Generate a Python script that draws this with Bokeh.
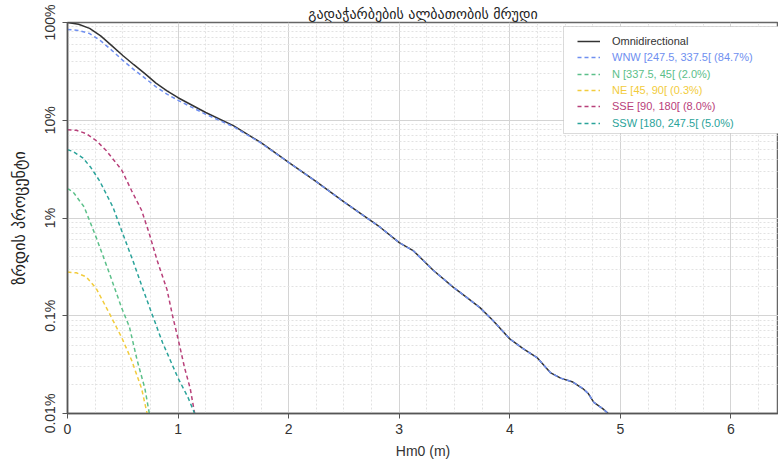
from bokeh.plotting import figure
from bokeh.models import (Range1d, FixedTicker, CustomJSTickFormatter, SingleIntervalTicker,
                          Legend, LegendItem, BoxAnnotation)
from bokeh.embed import file_html
from bokeh.resources import INLINE

# ---- data (percent exceedance vs Hm0 in m) ----
omni_x = [0, 0.1, 0.2, 0.3, 0.4, 0.5, 0.6, 0.7, 0.8, 0.9, 1.0, 1.25, 1.5, 1.75, 2.0, 2.25, 2.5, 2.83,
          3.0, 3.13, 3.31, 3.49, 3.61, 3.73, 3.85, 4.0, 4.12, 4.25, 4.37, 4.46, 4.57, 4.66, 4.71, 4.76, 4.84, 4.89]
omni_y = [100, 96, 87, 73, 58, 46, 37, 30, 24, 20, 17, 12, 8.8, 5.9, 3.7, 2.35, 1.46, 0.80,
          0.56, 0.46, 0.29, 0.195, 0.154, 0.121, 0.089, 0.058, 0.046, 0.037, 0.026, 0.023, 0.021, 0.018, 0.016, 0.013, 0.0112, 0.01]
wnw_x = omni_x
wnw_y = [85, 83, 77, 65, 52, 41, 33, 27, 22, 18.5, 16, 11.5, 8.6, 5.85, 3.7, 2.35, 1.46, 0.80,
         0.56, 0.46, 0.29, 0.195, 0.154, 0.121, 0.089, 0.058, 0.046, 0.037, 0.026, 0.023, 0.021, 0.018, 0.016, 0.013, 0.0112, 0.01]
n_x = [0, 0.05, 0.15, 0.26, 0.38, 0.49, 0.56, 0.63, 0.70, 0.74]
n_y = [2.0, 1.85, 1.3, 0.63, 0.27, 0.12, 0.077, 0.035, 0.018, 0.01]
ne_x = [0, 0.08, 0.17, 0.26, 0.38, 0.49, 0.58, 0.67, 0.72]
ne_y = [0.28, 0.275, 0.25, 0.19, 0.105, 0.06, 0.035, 0.018, 0.01]
sse_x = [0, 0.08, 0.17, 0.26, 0.35, 0.49, 0.58, 0.67, 0.74, 0.81, 0.90, 0.95, 1.0, 1.06, 1.11, 1.15]
sse_y = [8.0, 7.9, 7.3, 6.2, 4.9, 3.1, 1.9, 1.2, 0.69, 0.37, 0.185, 0.1, 0.058, 0.029, 0.018, 0.01]
ssw_x = [0, 0.05, 0.14, 0.21, 0.29, 0.41, 0.5, 0.59, 0.68, 0.77, 0.86, 1.0, 1.09, 1.15]
ssw_y = [5.0, 4.8, 4.1, 3.3, 2.4, 1.3, 0.69, 0.37, 0.19, 0.1, 0.053, 0.023, 0.0146, 0.01]

labels = ["Omnidirectional", "WNW [247.5, 337.5[ (84.7%)", "N [337.5, 45[ (2.0%)",
          "NE [45, 90[ (0.3%)", "SSE [90, 180[ (8.0%)", "SSW [180, 247.5[ (5.0%)"]
colors = ["#333333", "#6f8ff0", "#5cc08a", "#f2cc3c", "#b8407a", "#2aa39a"]
y_ticks = [0.01, 0.1, 1, 10, 100]
title_text = "გადაჭარბების ალბათობის მრუდი"
ylabel_text = "ზრდის პროცენტი"
xlabel_text = "Hm0 (m)"

W, H = 778, 465
BL, BT, BB = 67, 22, 52
p = figure(width=W, height=H, x_range=Range1d(0, 6.43), y_range=Range1d(0.01, 100),
           y_axis_type="log", output_backend="svg", toolbar_location=None,
           min_border_left=BL, min_border_right=0, min_border_top=BT, min_border_bottom=BB)
p.background_fill_color = "white"
p.outline_line_color = "#666666"
p.outline_line_width = 1.5

p.title.text = title_text
p.title.align = "center"
p.title.text_font = "DejaVu Sans"
p.title.text_font_size = "14px"
p.title.text_font_style = "normal"
p.title.text_color = "#222222"
p.title.standoff = 2
p.title.offset = 10

# axes / ticks
p.xaxis.ticker = SingleIntervalTicker(interval=1, num_minor_ticks=4)
minor = [m * 10.0 ** e for e in range(-2, 2) for m in range(2, 10)]
p.yaxis.ticker = FixedTicker(ticks=y_ticks, minor_ticks=minor)
p.yaxis.formatter = CustomJSTickFormatter(code="return tick + '%';")
p.yaxis.major_label_orientation = "vertical"
for ax in (p.xaxis, p.yaxis):
    ax.axis_line_color = "#555555"
    ax.axis_line_width = 1.5
    ax.major_tick_line_color = "#555555"
    ax.major_tick_out = 5
    ax.major_tick_in = 0
    ax.minor_tick_line_color = None
    ax.major_label_text_font = "Liberation Sans"
    ax.major_label_text_font_size = "14px"
    ax.major_label_text_color = "#333333"
p.xaxis.axis_label = xlabel_text
p.xaxis.axis_label_text_font = "Liberation Sans"
p.xaxis.axis_label_text_font_size = "14px"
p.xaxis.axis_label_text_font_style = "normal"
p.xaxis.axis_label_text_color = "#333333"
p.xaxis.axis_label_standoff = 6
p.yaxis.axis_label = ylabel_text
p.yaxis.axis_label_text_font = "DejaVu Sans"
p.yaxis.axis_label_text_font_size = "16px"
p.yaxis.axis_label_text_font_style = "normal"
p.yaxis.axis_label_text_color = "#222222"
p.yaxis.axis_label_standoff = 10

# grids
for g in (p.xgrid, p.ygrid):
    g.grid_line_color = "#d4d4d4"
    g.grid_line_width = 1
    g.minor_grid_line_color = "#e2e2e2"
    g.minor_grid_line_dash = "2 2"
    g.minor_grid_line_width = 1

series = [(omni_x, omni_y), (wnw_x, wnw_y), (n_x, n_y), (ne_x, ne_y), (sse_x, sse_y), (ssw_x, ssw_y)]
renderers = []
for i, (xs, ys) in enumerate(series):
    if i == 0:
        r = p.line(xs, ys, line_color=colors[i], line_width=1.5)
    else:
        r = p.line(xs, ys, line_color=colors[i], line_width=1.5, line_dash="4 3")
    renderers.append(r)

# legend box
frame_h = H - BT - BB
box = BoxAnnotation(left=496, right=800, top=frame_h - 4, bottom=frame_h - 111,
                    left_units="screen", right_units="screen", top_units="screen", bottom_units="screen",
                    fill_color="white", fill_alpha=1.0, line_color="#888888", line_width=1)
p.add_layout(box)
for i, lab in enumerate(labels):
    yc = 19 + 16.3 * i  # row centre from frame top
    leg = Legend(items=[LegendItem(label=lab, renderers=[renderers[i]])],
                 location=(510, frame_h - (yc + 8)), padding=0, margin=0, spacing=0,
                 glyph_height=16, label_height=16, glyph_width=23, label_standoff=12,
                 border_line_alpha=0, background_fill_alpha=0,
                 label_text_font="Liberation Sans", label_text_font_size="11px",
                 label_text_color=colors[i])
    p.add_layout(leg)

open("out.html", "w").write(file_html(p, INLINE))
